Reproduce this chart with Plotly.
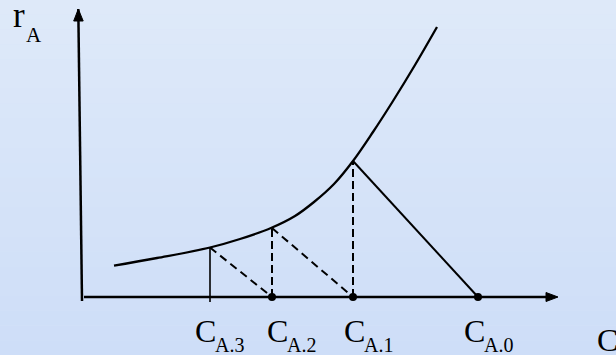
import plotly.graph_objects as go

# Concentrations leaving each stage (C_A.3, C_A.2, C_A.1) and the feed C_A.0
stage_subs = ["A.3", "A.2", "A.1", "A.0"]
stage_conc = [1.28, 1.90, 2.71, 3.96]
# Rate read on the curve at C_A.3, C_A.2, C_A.1
stage_rate = [0.495, 0.69, 1.36]

# Rate curve r_A(C_A)
curve_c = [0.32, 0.75, 1.28, 1.58, 1.89, 2.13, 2.32, 2.52, 2.71, 2.91, 3.11, 3.33, 3.55]
curve_r = [0.313, 0.39, 0.495, 0.58, 0.69, 0.81, 0.95, 1.13, 1.36, 1.65, 1.96, 2.32, 2.70]

INK = "#000000"
SERIF = "Liberation Serif, Times New Roman, serif"
MAIN_SIZE = 32
SUB_SIZE = 20

fig = go.Figure()


def seg(x, y, width=2, dash="solid"):
    fig.add_trace(go.Scatter(x=x, y=y, mode="lines", hoverinfo="skip",
                             line=dict(color=INK, width=width, dash=dash)))


def label(x, y, text, size, xshift=0):
    fig.add_annotation(x=x, y=y, xref="x", yref="y", xanchor="left", yanchor="middle",
                       xshift=xshift, showarrow=False, text=text,
                       font=dict(family=SERIF, size=size, color=INK))


c3, c2, c1, c0 = stage_conc
r3, r2, r1 = stage_rate

# axes with arrow heads
seg([-0.037, 0.0], [2.88, -0.04], width=2.5)
seg([0.02, 4.70], [0.0, 0.0], width=2.5)
fig.add_trace(go.Scatter(x=[-0.037, -0.083, 0.012, -0.037], y=[2.88, 2.76, 2.76, 2.88],
                         mode="lines", fill="toself", fillcolor=INK,
                         line=dict(color=INK, width=1), hoverinfo="skip"))
fig.add_trace(go.Scatter(x=[4.76, 4.64, 4.64, 4.76], y=[0.0, 0.045, -0.045, 0.0],
                         mode="lines", fill="toself", fillcolor=INK,
                         line=dict(color=INK, width=1), hoverinfo="skip"))

# rate curve
fig.add_trace(go.Scatter(x=curve_c, y=curve_r, mode="lines", hoverinfo="skip",
                         line=dict(color=INK, width=2.3, shape="spline", smoothing=1.0)))

# stage construction
seg([c3, c3], [r3, -0.05], width=1.6)
seg([c3, c2], [r3, 0.0], width=2, dash="8px,5px")
seg([c2, c2], [0.0, r2], width=2, dash="8px,4px")
seg([c2, c1], [r2, 0.0], width=2, dash="8px,5px")
seg([c1, c1], [0.0, r1], width=2, dash="8px,4px")
seg([c1, c0], [r1, 0.0], width=2)

# points on the concentration axis
fig.add_trace(go.Scatter(x=[c2, c1, c0], y=[0, 0, 0], mode="markers", hoverinfo="skip",
                         marker=dict(color=INK, size=8)))

# concentration labels: a large C with its stage subscript
label_shift = [-17, -7, -11, -16]
for sub, c, dx in zip(stage_subs, stage_conc, label_shift):
    label(c, -0.338, "C", MAIN_SIZE, dx)
    label(c, -0.48, sub, SUB_SIZE, dx + 20)
label(5.13, -0.428, "C", MAIN_SIZE)

# rate label
label(-0.71, 2.82, "r", 35)
label(-0.58, 2.625, "A", 21)

# soft blue backdrop, slightly lighter towards the top
top = (222, 233, 249)
bot = (206, 222, 248)
bands = 24
for i in range(bands):
    t = i / (bands - 1)
    col = tuple(round(top[k] + (bot[k] - top[k]) * t) for k in range(3))
    fig.add_shape(type="rect", xref="paper", yref="paper", layer="below",
                  x0=0, x1=1, y0=1 - (i + 1) / bands, y1=1 - i / bands,
                  fillcolor="rgb(%d,%d,%d)" % col, line=dict(width=0))

fig.update_layout(
    width=616, height=355,
    margin=dict(l=0, r=0, t=0, b=0),
    paper_bgcolor="rgb(214,228,248)", plot_bgcolor="rgba(0,0,0,0)",
    showlegend=False,
    xaxis=dict(range=[-0.82, 5.34], visible=False, fixedrange=True),
    yaxis=dict(range=[-0.58, 2.97], visible=False, fixedrange=True),
)

fig.write_html("out.html")
